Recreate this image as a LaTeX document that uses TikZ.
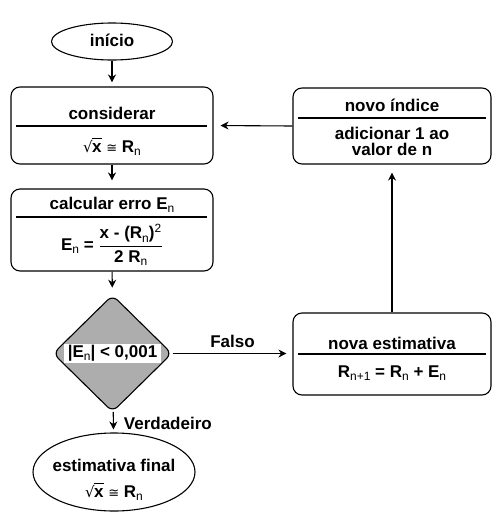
\documentclass[tikz,border=0pt]{standalone}
\usepackage{fontspec}
\usepackage{amsmath}
\setmainfont{Liberation Sans}
\newfontfamily\symfont{DejaVu Sans}
\usetikzlibrary{shapes.geometric,arrows.meta}
\newcommand\sbn[1]{\raisebox{-0.35ex}{\fontsize{12}{12}\selectfont\mdseries #1}}
\newcommand\myapprox{{\symfont\mdseries\fontsize{13}{13}\selectfont ≅}}
\newcommand\rootx{{\symfont\mdseries\fontsize{15}{15}\selectfont √}\kern-0.6pt\rlap{\rule[13.2pt]{9.5pt}{0.9pt}}x}
\tikzset{
  every node/.style={font=\fontsize{17}{16}\selectfont\bfseries, inner sep=0pt},
  box/.style={draw, rounded corners=9pt, line width=1.1pt},
  oval/.style={draw, ellipse, line width=1.1pt},
  divider/.style={line width=1.1pt},
  arr/.style={line width=1.1pt, -{Stealth[length=8pt,width=8pt]}},
}
\begin{document}
\begin{tikzpicture}[x=1pt,y=-1pt]
\useasboundingbox (0,0) rectangle (492,512);
% start
\node[oval, minimum width=121pt, minimum height=37pt] (inicio) at (112,41.5) {};
\node (inicioT) at (112,40) {início};
% considerar
\node[box, minimum width=202pt, minimum height=77pt] (cons) at (112,125.5) {};
\draw[divider] (16,126) -- (207,126);
\node (consT) at (112,113) {considerar};
\node (consF) at (112,147) {\rootx\ \myapprox\ R\sbn{n}};
% calcular erro
\node[box, minimum width=202pt, minimum height=82pt] (calc) at (112,230) {};
\draw[divider] (16,217) -- (207,217);
\node (calcT) at (112,205) {calcular erro E\sbn{n}};
\node (calcF) at (112,245) {E\sbn{n} = $\dfrac{\text{x - (R\sbn{n})\textsuperscript{\mdseries 2}}}{\text{2 R\sbn{n}}}$};
% decision
\node[diamond, draw, rounded corners=7pt, fill=black!32, line width=1.1pt, minimum width=119pt, minimum height=117pt] (dec) at (112.5,353.5) {};
\node[fill=white, inner xsep=4pt, inner ysep=1.5pt] (decT) at (112.5,353.5) {|E\sbn{n}| < 0,001};
% final
\node[oval, minimum width=162pt, minimum height=78pt] (fin) at (114,472) {};
\node (finT) at (114,465) {estimativa final};
\node (finF) at (114,492) {\rootx\ \myapprox\ R\sbn{n}};
% novo indice
\node[box, minimum width=198pt, minimum height=76pt] (novo) at (392,126) {};
\draw[divider] (298,118) -- (486,118);
\node (novoT) at (392,105) {novo índice};
\node[align=center] (novoB) at (392,141) {adicionar 1 ao\\valor de n};
% nova estimativa
\node[box, minimum width=198pt, minimum height=82pt] (nova) at (392,354) {};
\draw[divider] (298,354) -- (486,354);
\node (novaT) at (392,343) {nova estimativa};
\node (novaF) at (392,373) {R\sbn{n+1} = R\sbn{n} + E\sbn{n}};
% connectors
\draw[arr, shorten >=4pt] (inicio) -- (cons);
\draw[arr, shorten >=8pt] (cons) -- (calc);
\draw[arr, shorten >=7pt] (calc) -- (dec);
\draw[arr, shorten >=6pt] (dec.east) -- (nova.west |- dec.east) node[midway, above=5pt] (falso) {Falso};
\draw[arr, shorten >=3pt] (dec) -- (fin) node[pos=0.55, right=10pt] (verd) {Verdadeiro};
\draw[arr, shorten >=8pt] (nova.north) -- (novo.south);
\draw[arr, shorten >=7pt] (novo.west) -- (cons.east);
\end{tikzpicture}
\end{document}
